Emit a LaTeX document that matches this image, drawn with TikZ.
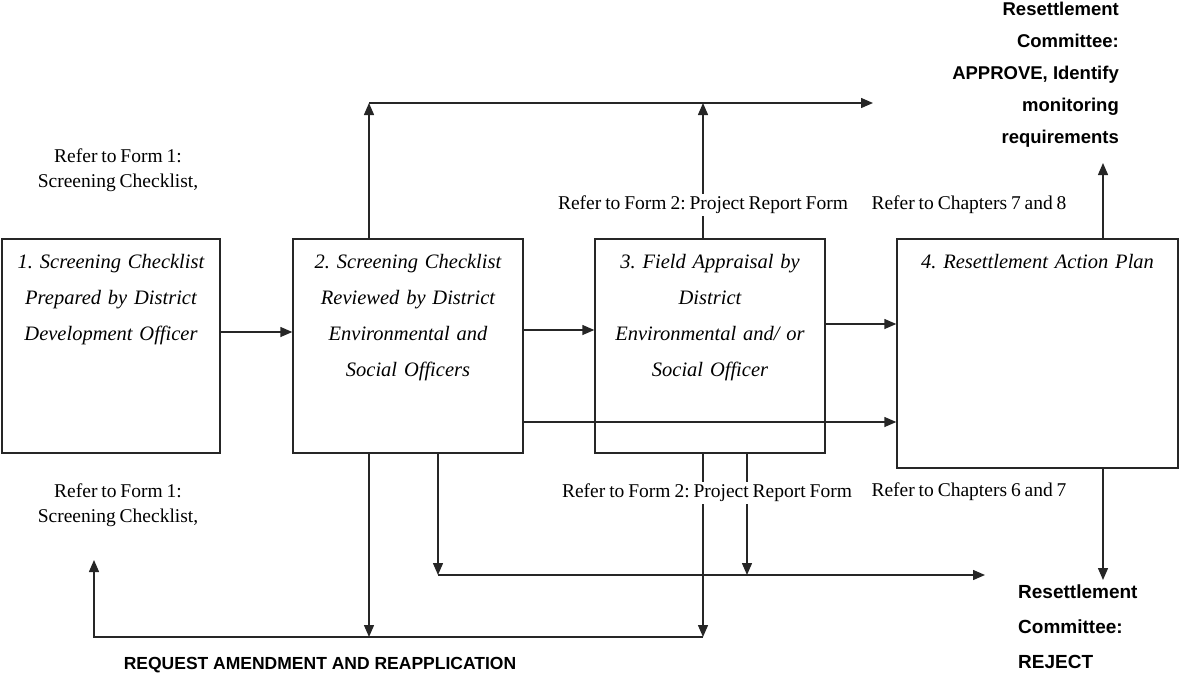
\documentclass[tikz,border=0pt]{standalone}
\usepackage{fontspec}
\setmainfont{Liberation Serif}[WordSpace=0.8]
\newfontfamily\verdictfont{Liberation Sans}
\usetikzlibrary{positioning,arrows.meta,calc}
\frenchspacing

\begin{document}
\begin{tikzpicture}[x=1pt, y=-1pt,
  box/.style={draw=black!85, line width=1.4pt, inner sep=0pt},
  boxtext/.style={align=center, inner sep=0pt, text width=216pt,
                  font=\fontsize{20.5}{36}\selectfont\itshape},
  note/.style={align=center, inner sep=2pt, fill=white,
               font=\fontsize{19.5}{25}\selectfont},
  verdict/.style={inner sep=0pt, font=\verdictfont\bfseries\fontsize{18.5}{32}\selectfont},
  link/.style={draw=black!85, line width=1.4pt},
  flow/.style={link, -{Triangle[length=12pt,width=10pt]}},
]
\useasboundingbox (0,0) rectangle (1181,691);

% --- guide rows and columns ---
\coordinate (retx) at (94,0);
\coordinate (upx) at (369,0);
\coordinate (dnx) at (438,0);
\coordinate (fax) at (703,0);
\coordinate (fbx) at (747,0);
\coordinate (rapx) at (1103,0);
\coordinate (topy) at (0,103);
\coordinate (y332) at (0,332);
\coordinate (y330) at (0,330);
\coordinate (y324) at (0,324);
\coordinate (y422) at (0,422);
\coordinate (rejy) at (0,575);
\coordinate (rety) at (0,637);

% --- the four steps ---
\node[box, minimum width=218pt, minimum height=214pt] (b1) at (111,346) {};
\node[box, minimum width=230pt, minimum height=214pt] (b2) at (408,346) {};
\node[box, minimum width=230pt, minimum height=214pt] (b3) at (710,346) {};
\node[box, minimum width=281pt, minimum height=229pt] (b4) at (1037.5,353.5) {};

\node[boxtext, below=16pt of b1.north] (t1) {1. Screening Checklist\\ Prepared by District\\ Development Officer};
\node[boxtext, below=16pt of b2.north] (t2) {2. Screening Checklist\\ Reviewed by District\\ Environmental and\\ Social Officers};
\node[boxtext, below=16pt of b3.north] (t3) {3. Field Appraisal by\\ District\\ Environmental and/ or\\ Social Officer};
\node[boxtext, text width=270pt, below=16pt of b4.north] (t4) {4. Resettlement Action Plan};

% --- outcomes ---
\node[verdict, align=right, anchor=north east] (approve) at (1119,2) {Resettlement\\ Committee:\\ APPROVE, Identify\\ monitoring\\ requirements};
\node[verdict, align=left, anchor=north west, font=\verdictfont\bfseries\fontsize{19}{35}\selectfont] (reject) at (1018,585) {Resettlement\\ Committee:\\ REJECT};
\node[verdict, font=\verdictfont\bfseries\fontsize{17.5}{20}\selectfont] (request) at (320,665) {REQUEST AMENDMENT AND REAPPLICATION};
\coordinate (approvein) at (873,103);
\coordinate (approveup) at (1103,163);
\coordinate (rejectin) at (985,575);
\coordinate (rejectdown) at (1103,580);
\coordinate (retup) at (94,560);

% --- flows (drawn before the notes, which blank them out) ---
\draw[flow] (b1.east |- y332) -- (b2.west |- y332);
\draw[flow] (b2.east |- y330) -- (b3.west |- y330);
\draw[flow] (b3.east |- y324) -- (b4.west |- y324);
\draw[flow] (b2.east |- y422) -- (b4.west |- y422);
\draw[flow] (b2.north -| upx) -- (upx |- topy);
\draw[flow] (upx |- topy) -- (approvein);
\draw[flow] (b3.north -| fax) -- (fax |- topy);
\draw[flow] (b4.north -| rapx) -- (approveup);
\draw[flow] (b4.south -| rapx) -- (rejectdown);
\draw[flow] (b2.south -| upx) -- (upx |- rety);
\draw[flow] (b2.south -| dnx) -- (dnx |- rejy);
\draw[flow] (dnx |- rejy) -- (rejectin);
\draw[flow] (b3.south -| fbx) -- (fbx |- rejy);
\draw[flow] (b3.south -| fax) -- (fax |- rety);
\draw[flow] (fax |- rety) -- (retx |- rety) -- (retup);

% --- references ---
\node[note] (n1) at (118,170) {Refer to Form 1:\\ Screening Checklist,};
\node[note] (n2) at (703,205) {Refer to Form 2: Project Report Form};
\node[note] (n3) at (969,205) {Refer to Chapters 7 and 8};
\node[note] (n4) at (118,505) {Refer to Form 1:\\ Screening Checklist,};
\node[note] (n5) at (707,493) {Refer to Form 2: Project Report Form};
\node[note] (n6) at (969,492) {Refer to Chapters 6 and 7};
\end{tikzpicture}
\end{document}
